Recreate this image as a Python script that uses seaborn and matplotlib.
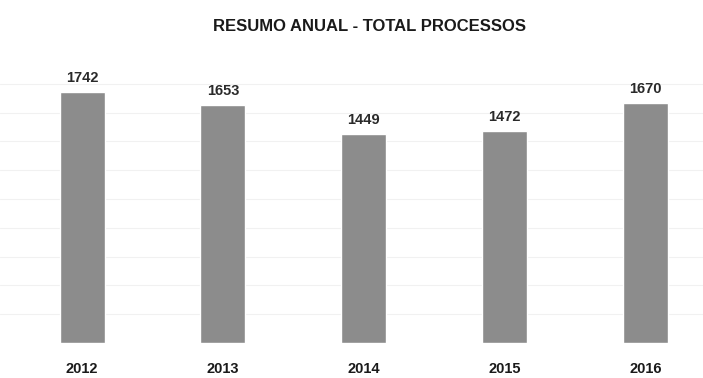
import matplotlib
matplotlib.use("Agg")
import matplotlib.pyplot as plt
import seaborn as sns
import pandas as pd

# Annual totals
years = ["2012", "2013", "2014", "2015", "2016"]
totals = [1742, 1653, 1449, 1472, 1670]
title = "RESUMO ANUAL - TOTAL PROCESSOS"

sns.set_theme(style="white")
plt.rcParams["font.family"] = ["Liberation Sans", "DejaVu Sans"]

df = pd.DataFrame({"ano": years, "total": totals})

fig = plt.figure(figsize=(7.03, 3.78), dpi=100)
ax = fig.add_axes([0.0, 35 / 378, 1.0, (343 - 55) / 378])

sns.barplot(data=df, x="ano", y="total", color="#8c8c8c", width=0.32,
            saturation=1, ax=ax, zorder=3)

ax.set_xlim(-0.583, 4.41)
ax.set_ylim(0, 2000)
ax.set_yticks(range(200, 2000, 200))
ax.yaxis.grid(True, color="#f1f1f1", linewidth=0.8, zorder=0)
ax.tick_params(left=False, labelleft=False, bottom=False)
for s in ax.spines.values():
    s.set_visible(False)
ax.set_xlabel("")
ax.set_ylabel("")

# Year labels below each bar
ax.set_xticks(range(len(years)))
ax.set_xticklabels(years, fontsize=10.5, fontweight="bold", color="#1a1a1a")
ax.tick_params(axis="x", pad=8)

# Value labels above each bar
for i, v in enumerate(totals):
    ax.annotate(str(v), (i, v), xytext=(0, 5), textcoords="offset points",
                ha="center", va="bottom", fontsize=10.5, fontweight="bold",
                color="#2a2a2a")

fig.text(0.525, 0.93, title, ha="center", va="center", fontsize=12,
         fontweight="bold", color="#1a1a1a")

fig.savefig("out.png", dpi=100, facecolor="white")
